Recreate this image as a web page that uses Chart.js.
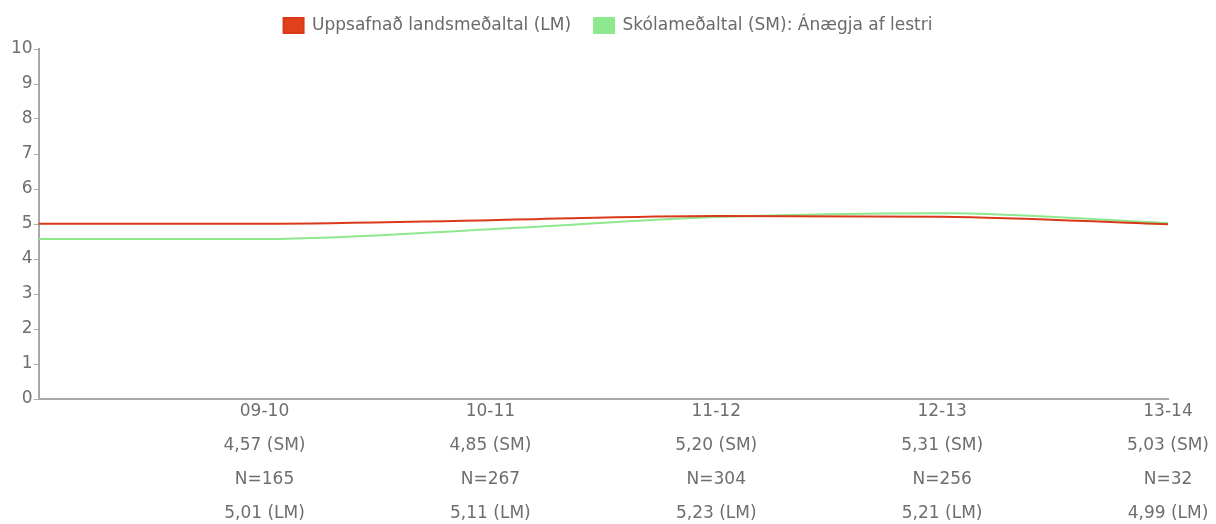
<!DOCTYPE html>
<html>
<head>
<meta charset="utf-8">
<script src="https://cdn.jsdelivr.net/npm/chart.js@4"></script>
<style>
  html, body { margin: 0; padding: 0; background: #fff; }
  #wrap { width: 1216px; height: 524px; }
</style>
</head>
<body>
<div id="wrap"><canvas id="c" width="1216" height="524"></canvas></div>
<script>
const years = ['', '09-10', '10-11', '11-12', '12-13', '13-14'];
const lmValues = [5.01, 5.01, 5.11, 5.23, 5.21, 4.99];
const smValues = [4.57, 4.57, 4.85, 5.20, 5.31, 5.03];
const nValues = [null, 165, 267, 304, 256, 32];
const seriesNames = ['Uppsafnað landsmeðaltal (LM)', 'Skólameðaltal (SM): Ánægja af lestri'];

const fmt = v => v.toFixed(2).replace('.', ',');
const labels = years.map((y, i) => i === 0 ? '' :
  [y, fmt(smValues[i]) + ' (SM)', 'N=' + nValues[i], fmt(lmValues[i]) + ' (LM)']);

Chart.defaults.font.family = '"DejaVu Sans", Verdana, sans-serif';
Chart.defaults.color = '#6e6e6e';

// centre the legend on the whole canvas and leave a little extra room below it
const legendTweak = {
  id: 'legendTweak',
  beforeUpdate(chart) {
    const lg = chart.legend;
    if (lg && !lg._patched) {
      const fit = lg.fit;
      lg.fit = function () { fit.call(this); this.height += 5; };
      lg._patched = true;
    }
  },
  afterUpdate(chart) {
    const lg = chart.legend;
    if (!lg) return;
    const shift = chart.width / 2 - (lg.left + lg.right) / 2;
    lg.left += shift;
    lg.right += shift;
  }
};

new Chart(document.getElementById('c'), {
  type: 'line',
  data: {
    labels: labels,
    datasets: [
      { label: seriesNames[0], data: lmValues, borderColor: '#d9391a', backgroundColor: '#e0401a',
        borderWidth: 2, pointRadius: 0, cubicInterpolationMode: 'monotone', fill: false },
      { label: seriesNames[1], data: smValues, borderColor: '#8ee88e', backgroundColor: '#8ee88e',
        borderWidth: 2, pointRadius: 0, cubicInterpolationMode: 'monotone', fill: false }
    ]
  },
  plugins: [legendTweak],
  options: {
    responsive: false,
    animation: false,
    layout: { padding: { left: 10, right: 48, top: -6, bottom: -3 } },
    plugins: {
      legend: {
        position: 'top',
        labels: { boxWidth: 20, boxHeight: 15, font: { size: 17 }, color: '#6a6a6a', padding: 23 }
      },
      tooltip: { enabled: false }
    },
    scales: {
      x: {
        offset: false,
        grid: { display: false, drawTicks: false },
        border: { display: true, color: '#a8a8a8', width: 2 },
        ticks: { font: { size: 17, lineHeight: 2 }, color: '#6e6e6e', maxRotation: 0, autoSkip: false, padding: -4 }
      },
      y: {
        min: 0, max: 10,
        grid: { drawOnChartArea: false, drawTicks: true, tickLength: 5, color: '#b0b0b0' },
        border: { display: true, color: '#a8a8a8', width: 2 },
        ticks: { stepSize: 1, font: { size: 17 }, color: '#6e6e6e', padding: 1 }
      }
    }
  }
});
</script>
</body>
</html>
